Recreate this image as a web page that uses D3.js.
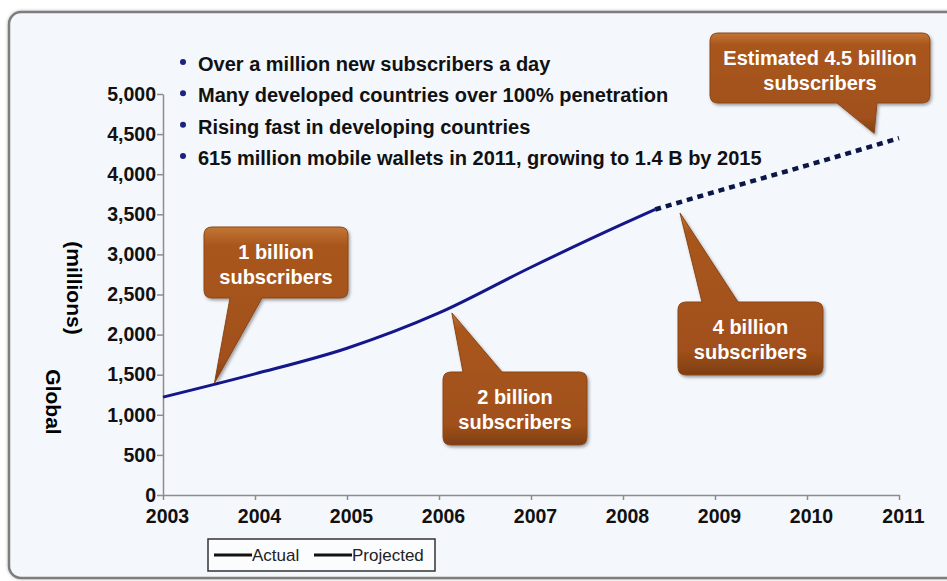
<!DOCTYPE html>
<html>
<head>
    <meta charset="utf-8">
    <title>Global mobile subscribers</title>
    <script src="https://d3js.org/d3.v7.min.js"></script>
    <style>
        body {
            margin: 0;
            background: #fff;
            font-family: "Liberation Sans", Arial, sans-serif;
        }

        .axis path,
        .axis line {
            stroke: #8c8c8c;
            stroke-width: 1.5px;
        }

        .axis text {
            font-weight: bold;
            font-size: 19.5px;
            fill: #111;
        }

        .bullets text {
            font-weight: bold;
            font-size: 20px;
            fill: #111;
        }

        .callout text {
            font-weight: bold;
            font-size: 20px;
            fill: #fff;
            text-anchor: middle;
        }
    </style>
</head>
<body>
    <svg id="chart" width="947" height="581"></svg>
    <script>
        // values (millions of subscribers)
        var actualYears = [2003, 2004, 2005, 2006, 2007, 2008, 2008.35];
        var actualValues = [1220, 1510, 1830, 2270, 2840, 3380, 3560];
        var projectedYears = [2008.35, 2009, 2010, 2011];
        var projectedValues = [3560, 3780, 4110, 4450];
        var yearTicks = [2003, 2004, 2005, 2006, 2007, 2008, 2009, 2010, 2011];
        var valueTicks = [0, 500, 1000, 1500, 2000, 2500, 3000, 3500, 4000, 4500, 5000];
        var bulletLines = [
            "Over a million new subscribers a day",
            "Many developed countries over 100% penetration",
            "Rising fast in developing countries",
            "615 million mobile wallets in 2011, growing to 1.4 B by 2015"
        ];
        var calloutTexts = [
            ["1 billion", "subscribers"],
            ["2 billion", "subscribers"],
            ["4 billion", "subscribers"],
            ["Estimated 4.5 billion", "subscribers"]
        ];
        // where each pointer touches the curve (year, millions)
        var calloutTipYears = [2003.56, 2006.14, 2008.62, 2010.73];
        var calloutTipValues = [1397, 2270, 3516, 4510];
        var legendLabels = ["Actual", "Projected"];

        var svg = d3.select("#chart");

        var x = d3.scaleLinear().domain([2003, 2011]).range([163, 899]);
        var y = d3.scaleLinear().domain([0, 5000]).range([495, 94]);

        var defs = svg.append("defs");
        var grad = defs.append("linearGradient")
            .attr("id", "brown").attr("x1", 0).attr("y1", 0).attr("x2", 0).attr("y2", 1);
        grad.append("stop").attr("offset", "0%").attr("stop-color", "#c27636");
        grad.append("stop").attr("offset", "12%").attr("stop-color", "#a9561d");
        grad.append("stop").attr("offset", "85%").attr("stop-color", "#a1501a");
        grad.append("stop").attr("offset", "100%").attr("stop-color", "#7e3e10");
        defs.append("filter").attr("id", "shadow")
            .attr("x", "-10%").attr("y", "-10%").attr("width", "130%").attr("height", "130%")
            .append("feDropShadow")
            .attr("dx", 1.5).attr("dy", 2).attr("stdDeviation", 1.5)
            .attr("flood-color", "#000").attr("flood-opacity", 0.35);
        defs.append("filter").attr("id", "frameShadow")
            .append("feDropShadow")
            .attr("dx", 0).attr("dy", 0).attr("stdDeviation", 1.5)
            .attr("flood-color", "#000").attr("flood-opacity", 0.3);

        // slide frame
        svg.append("rect")
            .attr("x", 9).attr("y", 12)
            .attr("width", 980).attr("height", 566)
            .attr("rx", 12)
            .attr("fill", "#f4f7fc")
            .attr("stroke", "#7d7d7d")
            .attr("stroke-width", 2.5)
            .attr("filter", "url(#frameShadow)");

        // axes
        svg.append("g")
            .attr("class", "axis")
            .attr("transform", "translate(0,495)")
            .call(d3.axisBottom(x).tickValues(yearTicks).tickFormat(d3.format("d")).tickSize(5).tickSizeOuter(0).tickPadding(9))
            .selectAll("text").attr("dx", 4);

        svg.append("g")
            .attr("class", "axis")
            .attr("transform", "translate(163,0)")
            .call(d3.axisLeft(y).tickValues(valueTicks).tickFormat(d3.format(",")).tickSize(6).tickSizeOuter(0).tickPadding(1));

        svg.selectAll(".axis text").attr("fill", "#111");

        // y titles
        svg.append("text")
            .attr("transform", "translate(67,288) rotate(90)")
            .attr("text-anchor", "middle")
            .style("font-weight", "bold").style("font-size", "21px")
            .text("(millions)");
        svg.append("text")
            .attr("transform", "translate(46,402) rotate(90)")
            .attr("text-anchor", "middle")
            .style("font-weight", "bold").style("font-size", "21px")
            .text("Global");

        // lines
        var actual = actualYears.map(function (d, i) { return [d, actualValues[i]]; });
        var projected = projectedYears.map(function (d, i) { return [d, projectedValues[i]]; });
        var line = d3.line()
            .x(function (d) { return x(d[0]); })
            .y(function (d) { return y(d[1]); })
            .curve(d3.curveMonotoneX);

        svg.append("path")
            .datum(actual)
            .attr("d", line)
            .attr("fill", "none")
            .attr("stroke", "#14168a")
            .attr("stroke-width", 3);

        svg.append("path")
            .datum(projected)
            .attr("d", line)
            .attr("fill", "none")
            .attr("stroke", "#0b1747")
            .attr("stroke-width", 4.5)
            .attr("stroke-dasharray", "6,5");

        // bullet list
        var bullets = svg.append("g").attr("class", "bullets");
        var bulletY = d3.scalePoint().domain(d3.range(bulletLines.length)).range([64, 158]);
        bullets.selectAll("circle")
            .data(bulletLines)
            .join("circle")
            .attr("cx", 183)
            .attr("cy", function (d, i) { return bulletY(i) - 2; })
            .attr("r", 3)
            .attr("fill", "#1a2380");
        bullets.selectAll("text")
            .data(bulletLines)
            .join("text")
            .attr("x", 198)
            .attr("y", function (d, i) { return bulletY(i) + 7; })
            .text(function (d) { return d; });

        // callouts: box in pixels, pointer base along top or bottom edge
        var calloutBoxes = [
            { x: 204, y: 227, w: 144, h: 71, side: "bottom", b0: 230, b1: 262 },
            { x: 443, y: 372, w: 144, h: 73, side: "top", b0: 463, b1: 502 },
            { x: 678, y: 302, w: 145, h: 73, side: "top", b0: 702, b1: 738 },
            { x: 710, y: 33, w: 220, h: 70, side: "bottom", b0: 837, b1: 877 }
        ];

        function calloutPath(b, tx, ty) {
            var r = 8, p = d3.path();
            p.moveTo(b.x + r, b.y);
            if (b.side === "top") {
                p.lineTo(b.b0, b.y); p.lineTo(tx, ty); p.lineTo(b.b1, b.y);
            }
            p.lineTo(b.x + b.w - r, b.y);
            p.quadraticCurveTo(b.x + b.w, b.y, b.x + b.w, b.y + r);
            p.lineTo(b.x + b.w, b.y + b.h - r);
            p.quadraticCurveTo(b.x + b.w, b.y + b.h, b.x + b.w - r, b.y + b.h);
            if (b.side === "bottom") {
                p.lineTo(b.b1, b.y + b.h); p.lineTo(tx, ty); p.lineTo(b.b0, b.y + b.h);
            }
            p.lineTo(b.x + r, b.y + b.h);
            p.quadraticCurveTo(b.x, b.y + b.h, b.x, b.y + b.h - r);
            p.lineTo(b.x, b.y + r);
            p.quadraticCurveTo(b.x, b.y, b.x + r, b.y);
            p.closePath();
            return p.toString();
        }

        var callouts = svg.selectAll(".callout")
            .data(calloutTexts)
            .join("g")
            .attr("class", "callout");

        callouts.append("path")
            .attr("d", function (d, i) {
                return calloutPath(calloutBoxes[i], x(calloutTipYears[i]), y(calloutTipValues[i]));
            })
            .attr("fill", "url(#brown)")
            .attr("stroke", "#8a4614")
            .attr("stroke-width", 1)
            .attr("filter", "url(#shadow)");

        callouts.each(function (d, i) {
            var b = calloutBoxes[i];
            d3.select(this).selectAll("text")
                .data(d)
                .join("text")
                .attr("x", b.x + b.w / 2)
                .attr("y", function (t, j) { return b.y + 32 + j * 25; })
                .text(function (t) { return t; });
        });

        // legend
        var legend = svg.append("g");
        legend.append("rect")
            .attr("x", 208).attr("y", 539)
            .attr("width", 227).attr("height", 32)
            .attr("fill", "#fbfcfe")
            .attr("stroke", "#333")
            .attr("stroke-width", 1.5);
        var legendX = [214, 314];
        legendLabels.forEach(function (lab, i) {
            legend.append("line")
                .attr("x1", legendX[i]).attr("x2", legendX[i] + 38)
                .attr("y1", 555).attr("y2", 555)
                .attr("stroke", "#111").attr("stroke-width", 3);
            legend.append("text")
                .attr("x", legendX[i] + 38).attr("y", 561)
                .style("font-size", "17px")
                .attr("fill", "#222")
                .text(lab);
        });
    </script>
</body>
</html>
